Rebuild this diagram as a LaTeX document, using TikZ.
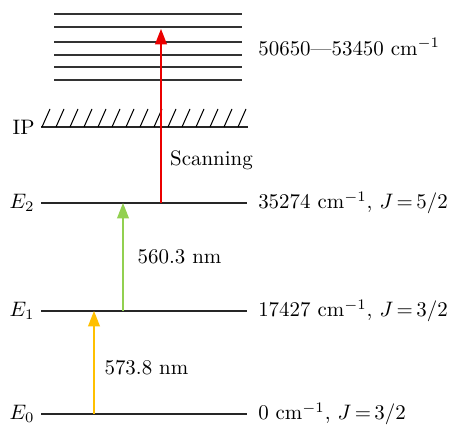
\documentclass[tikz,border=0pt]{standalone}
\usepackage{amsmath, amssymb}
\usepackage{tikz}
\usetikzlibrary{arrows.meta,calc}
\usepackage{xcolor}
\definecolor{gelb}{RGB}{255,192,0}
\definecolor{gruen}{RGB}{146,208,80}
\definecolor{rot}{RGB}{235,0,0}

\begin{document}
\begin{tikzpicture}[x=0.0168cm, y=0.0168cm, >={Triangle[length=2.6mm,width=2mm]},
    niveau/.style={line width=0.7pt, black!85},
    band/.style={line width=0.6pt, black!80},
    uebergang/.style={->, line width=0.6pt},
    marke/.style={text=black, inner sep=1.2pt}]
    \useasboundingbox (0,0) rectangle (452,425);
    % Energieniveaus
    \coordinate (E0a) at (41,11);   \coordinate (E0b) at (247,11);
    \coordinate (E1a) at (41,114);  \coordinate (E1b) at (247,114);
    \coordinate (E2a) at (41,222);  \coordinate (E2b) at (247,222);
    \coordinate (IPa) at (41,298);  \coordinate (IPb) at (248,298);
    \draw[niveau] (E0a) -- (E0b) node[right=0.6mm, text=black] (E0r) {0 cm$^{-1}$, $J\,{=}\,3/2$};
    \draw[niveau] (E1a) -- (E1b) node[right=0.6mm, text=black] (E1r) {17427 cm$^{-1}$, $J\,{=}\,3/2$};
    \draw[niveau] (E2a) -- (E2b) node[right=0.6mm, text=black] (E2r) {35274 cm$^{-1}$, $J\,{=}\,5/2$};
    \draw[niveau] (IPa) -- (IPb);
    \node[marke, left=0.6mm] (E0l) at (E0a) {$E_0$};
    \node[marke, left=0.6mm] (E1l) at (E1a) {$E_1$};
    \node[marke, left=0.6mm] (E2l) at (E2a) {$E_2$};
    \node[marke, left=0.6mm] (IPl) at (IPa) {IP};
    % Schraffur ueber der Ionisationsgrenze
    \foreach \i in {0,...,14}
        \draw[line width=0.5pt] ($(IPa)+(1+14*\i,0)$) -- ++(8,18);
    % Kontinuum
    \foreach \y in {345,358,370,383,398,411}
        \draw[band] (54,\y) -- (242,\y);
    \node[right] (kont) at (251,378) {50650---53450 cm$^{-1}$};
    % Anregungsschritte
    \coordinate (g0) at (94,11);   \coordinate (g1) at (94,114);
    \coordinate (h1) at (123,114); \coordinate (h2) at (123,222);
    \coordinate (r2) at (161,222); \coordinate (r3) at (161,396);
    \draw[uebergang, gelb] (g0) -- (g1) node[pos=0.45, right=0.5mm, text=black] (l1) {573.8 nm};
    \draw[uebergang, gruen] (h1) -- (h2) node[pos=0.5, right=1.2mm, text=black] (l2) {560.3 nm};
    \draw[->, line width=0.55pt, draw=rot, fill=rot] (r2) -- (r3);
    \node[right=0.3mm] (scan) at (161,265) {Scanning};
\end{tikzpicture}
\end{document}
